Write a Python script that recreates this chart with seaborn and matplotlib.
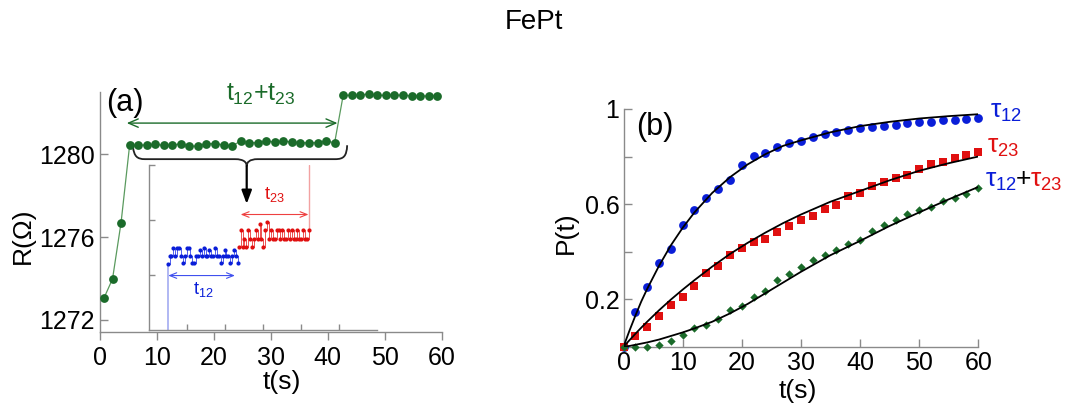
import numpy as np
import pandas as pd
import matplotlib
matplotlib.use("Agg")
import matplotlib.pyplot as plt
from matplotlib.path import Path
from matplotlib.patches import PathPatch
import seaborn as sns

sns.set_style("ticks")
plt.rcParams["font.family"] = ["Liberation Sans", "DejaVu Sans"]
plt.rcParams["mathtext.fontset"] = "custom"
plt.rcParams["mathtext.rm"] = "Liberation Sans"
plt.rcParams["mathtext.it"] = "Liberation Sans"
plt.rcParams["mathtext.bf"] = "Liberation Sans:bold"
plt.rcParams["text.color"] = "black"
plt.rcParams["axes.labelcolor"] = "black"
plt.rcParams["xtick.labelcolor"] = "black"
plt.rcParams["ytick.labelcolor"] = "black"

# ---------------- data: panel (a) ----------------
a_time = np.arange(0.7, 59.3, 1.5)          # sampling times of the green dots (s)
a_R = [1273.06, 1273.98, 1276.70,
       1280.43, 1280.43, 1280.45, 1280.47, 1280.43, 1280.43, 1280.51, 1280.39,
       1280.39, 1280.51, 1280.51, 1280.45, 1280.39, 1280.64, 1280.55, 1280.56,
       1280.63, 1280.59, 1280.63, 1280.59, 1280.56, 1280.55, 1280.56, 1280.64,
       1280.55,
       1282.84, 1282.84, 1282.84, 1282.92, 1282.84, 1282.84, 1282.86, 1282.84,
       1282.82, 1282.82, 1282.80, 1282.82]
a_xticks = [0, 10, 20, 30, 40, 50, 60]
a_yticks = [1272, 1276, 1280]

# inset telegraph traces (inset units)
blue_t = np.arange(4.85, 23.4, 0.5)
blue_v = [1.20, 1.35, 1.35, 1.49, 1.35, 1.49, 1.49, 1.35, 1.22, 1.35, 1.49, 1.49,
          1.35, 1.22, 1.22, 1.35, 1.35, 1.45, 1.35, 1.49, 1.35, 1.35, 1.45, 1.35,
          1.35, 1.49, 1.35, 1.35, 1.22, 1.35, 1.45, 1.35, 1.35, 1.22, 1.35, 1.45,
          1.35, 1.22]
red_t = np.arange(23.6, 42.15, 0.5)
red_v = [1.51, 1.81, 1.51, 1.66, 1.51, 1.81, 1.66, 1.51, 1.66, 1.81, 1.66, 1.93,
         1.66, 1.51, 1.81, 1.96, 1.66, 1.81, 1.66, 1.66, 1.81, 1.81, 1.66, 1.81,
         1.66, 1.66, 1.81, 1.66, 1.81, 1.66, 1.66, 1.81, 1.66, 1.66, 1.81, 1.66,
         1.66, 1.81]

# ---------------- data: panel (b) ----------------
b_time = np.arange(0, 61, 2)
p_tau12 = [0.0, 0.148, 0.253, 0.352, 0.41, 0.511, 0.574, 0.626, 0.665, 0.703,
           0.764, 0.802, 0.816, 0.841, 0.858, 0.865, 0.882, 0.896, 0.905, 0.912,
           0.919, 0.924, 0.928, 0.933, 0.943, 0.945, 0.945, 0.952, 0.954, 0.957,
           0.964]
p_tau23 = [0.0, 0.045, 0.084, 0.13, 0.176, 0.211, 0.257, 0.31, 0.338, 0.384,
           0.415, 0.439, 0.453, 0.481, 0.509, 0.535, 0.551, 0.58, 0.598, 0.636,
           0.647, 0.675, 0.692, 0.711, 0.724, 0.746, 0.767, 0.778, 0.792, 0.805,
           0.819]
p_sum = [0.0, 0.0, 0.0, 0.007, 0.024, 0.049, 0.077, 0.091, 0.115, 0.155,
         0.173, 0.211, 0.235, 0.279, 0.307, 0.335, 0.363, 0.387, 0.408, 0.432,
         0.45, 0.485, 0.511, 0.535, 0.56, 0.577, 0.588, 0.612, 0.626, 0.644,
         0.668]
fit_time = [0, 1, 2, 3, 4, 6, 8, 10, 12, 15, 18, 21, 24, 27, 30, 35, 40, 45, 50, 55, 60]
fit_tau12 = [0, 0.067, 0.13, 0.19, 0.243, 0.34, 0.426, 0.50, 0.565, 0.647, 0.713,
             0.767, 0.81, 0.845, 0.868, 0.902, 0.928, 0.946, 0.96, 0.97, 0.978]
fit_tau23 = [0, 0.027, 0.054, 0.08, 0.105, 0.153, 0.198, 0.24, 0.28, 0.337, 0.39,
             0.437, 0.48, 0.52, 0.556, 0.61, 0.655, 0.70, 0.74, 0.772, 0.80]
fit_sum = [0, 0.003, 0.008, 0.013, 0.018, 0.03, 0.045, 0.06, 0.077, 0.105, 0.14,
           0.18, 0.225, 0.27, 0.315, 0.385, 0.445, 0.508, 0.565, 0.62, 0.672]
b_xticks = [0, 10, 20, 30, 40, 50, 60]
b_yticks = [0.2, 0.4, 0.6, 0.8, 1.0]
b_yticklabels = ["0.2", "", "0.6", "", "1"]

GREEN = "#1b6b2a"
BLUE = "#0a1ed8"
RED = "#e01010"
GREY = "#8a8a8a"

W, H = 1068, 405
fig = plt.figure(figsize=(W / 100, H / 100), dpi=100)


def fx(px):
    return px / W


def fy(py):
    return 1 - py / H


# ================= panel (a) =================
axa = fig.add_axes([fx(100), fy(332), fx(441.7) - fx(100), fy(92) - fy(332)])
dfa = pd.DataFrame({"t": a_time, "R": a_R})
sns.lineplot(data=dfa, x="t", y="R", ax=axa, color="#5a9a5e", lw=0.9,
             estimator=None, sort=False)
sns.scatterplot(data=dfa, x="t", y="R", ax=axa, color=GREEN, s=40,
                linewidth=0, zorder=3, clip_on=False)
axa.set_xlim(0, 60)
axa.set_ylim(1271.42, 1283.0)
axa.set_xticks(a_xticks)
axa.set_yticks(a_yticks)
axa.tick_params(axis="y", direction="in", length=6, width=1, color=GREY,
                labelsize=18, pad=4, labelcolor="black")
axa.tick_params(axis="x", direction="out", length=6, width=1, color=GREY,
                labelsize=18, pad=4, labelcolor="black")
for s in ["top", "right"]:
    axa.spines[s].set_visible(False)
for s in ["left", "bottom"]:
    axa.spines[s].set_color(GREY)
    axa.spines[s].set_linewidth(1)
axa.set_xlabel("t(s)", fontsize=19, color="black")
axa.set_ylabel("R(Ω)", fontsize=19, color="black")
axa.xaxis.set_label_coords(0.533, -0.16)
axa.yaxis.set_label_coords(-0.19, 0.40)

# green double arrow t12+t23
axa.annotate("", xy=(41.7, 1281.5), xytext=(4.7, 1281.5),
             arrowprops=dict(arrowstyle="<->,head_length=0.7,head_width=0.3",
                             color=GREEN, lw=1.0, shrinkA=0, shrinkB=0))

# curly brace below the plateau
verts = [(5.8, 1280.34), (6.0, 1279.9), (6.5, 1279.76), (7.9, 1279.76),
         (23.7, 1279.76),
         (25.3, 1279.76), (25.76, 1279.6), (25.76, 1279.42),
         (25.76, 1279.6), (26.2, 1279.76), (27.7, 1279.76),
         (41.3, 1279.76),
         (42.8, 1279.76), (43.3, 1279.9), (43.4, 1280.43)]
codes = [Path.MOVETO, Path.CURVE4, Path.CURVE4, Path.CURVE4,
         Path.LINETO,
         Path.CURVE4, Path.CURVE4, Path.CURVE4,
         Path.CURVE4, Path.CURVE4, Path.CURVE4,
         Path.LINETO,
         Path.CURVE4, Path.CURVE4, Path.CURVE4]
axa.add_patch(PathPatch(Path(verts, codes), fc="none", ec="#222222", lw=1.3,
                        clip_on=False))
axa.annotate("", xy=(25.76, 1277.6), xytext=(25.76, 1279.42),
             arrowprops=dict(arrowstyle="-|>,head_length=0.8,head_width=0.3",
                             color="black", lw=1.6, shrinkA=0, shrinkB=0))

fig.text(fx(125), fy(103), "(a)", fontsize=22, ha="center", va="center")
fig.text(fx(261), fy(101), r"$t_{12}$+$t_{23}$", fontsize=18, color=GREEN,
         ha="center", va="baseline")

# ---------------- inset ----------------
axi = fig.add_axes([fx(149.3), fy(330), fx(376.7) - fx(149.3), fy(165) - fy(330)])
axi.set_facecolor("none")
axi.plot([blue_t[0], blue_t[0]], [0, blue_v[0]], color="#aab2f2", lw=1.3)
axi.plot([red_t[-1], red_t[-1]], [red_v[-1], 3], color="#f2a2a2", lw=1.0)
dfb = pd.DataFrame({"t": blue_t, "v": blue_v})
dfr = pd.DataFrame({"t": red_t, "v": red_v})
sns.lineplot(data=dfb, x="t", y="v", ax=axi, color="#5060ee", lw=0.7,
             estimator=None, sort=False, drawstyle="steps-post")
sns.lineplot(data=dfr, x="t", y="v", ax=axi, color="#ee5050", lw=0.7,
             estimator=None, sort=False, drawstyle="steps-post")
sns.scatterplot(data=dfb, x="t", y="v", ax=axi, color=BLUE, s=9, linewidth=0,
                zorder=3)
sns.scatterplot(data=dfr, x="t", y="v", ax=axi, color=RED, s=9, linewidth=0,
                zorder=3)
axi.set_xlim(0, 60)
axi.set_ylim(0, 3)
axi.set_xticks([10, 20, 30, 40, 50])
axi.set_yticks([1, 2, 3])
axi.set_xticklabels([])
axi.set_yticklabels([])
axi.set_xlabel("")
axi.set_ylabel("")
axi.tick_params(direction="in", length=4, width=1, color=GREY)
for s in ["top", "right"]:
    axi.spines[s].set_visible(False)
for s in ["left", "bottom"]:
    axi.spines[s].set_color(GREY)
    axi.spines[s].set_linewidth(1)
axi.annotate("", xy=(22.6, 0.99), xytext=(5.0, 0.99),
             arrowprops=dict(arrowstyle="<->,head_length=0.5,head_width=0.2",
                             color="#4050ee", lw=0.8, shrinkA=0, shrinkB=0))
axi.annotate("", xy=(42.0, 2.10), xytext=(24.1, 2.10),
             arrowprops=dict(arrowstyle="<->,head_length=0.5,head_width=0.2",
                             color="#ee4040", lw=0.8, shrinkA=0, shrinkB=0))
fig.text(fx(203), fy(294), r"$t_{12}$", fontsize=13, color=BLUE,
         ha="center", va="baseline")
fig.text(fx(274), fy(199), r"$t_{23}$", fontsize=13, color=RED,
         ha="center", va="baseline")

# ================= panel (b) =================
axb = fig.add_axes([fx(623.5), fy(346.7), fx(978.3) - fx(623.5), fy(109) - fy(346.7)])
dfp = pd.DataFrame({"t": b_time, "p12": p_tau12, "p23": p_tau23, "ps": p_sum})
dff = pd.DataFrame({"t": fit_time, "f12": fit_tau12, "f23": fit_tau23, "fs": fit_sum})
sns.scatterplot(data=dfp, x="t", y="p12", ax=axb, color=BLUE, marker="o", s=40,
                linewidth=0, zorder=3, clip_on=False)
sns.scatterplot(data=dfp, x="t", y="p23", ax=axb, color=RED, marker="s", s=40,
                linewidth=0, zorder=3, clip_on=False)
sns.scatterplot(data=dfp, x="t", y="ps", ax=axb, color=GREEN, marker="D", s=18,
                linewidth=0, zorder=4, clip_on=False)
for col in ["f12", "f23", "fs"]:
    sns.lineplot(data=dff, x="t", y=col, ax=axb, color="black", lw=1.3,
                 estimator=None, sort=False, zorder=5)
axb.set_xlim(0, 60)
axb.set_ylim(0, 1.0)
axb.set_xticks(b_xticks)
axb.set_yticks(b_yticks)
axb.set_yticklabels(b_yticklabels)
axb.tick_params(direction="in", length=6, width=1, color=GREY, labelsize=18,
                pad=3, labelcolor="black")
for s in ["top", "right"]:
    axb.spines[s].set_visible(False)
for s in ["left", "bottom"]:
    axb.spines[s].set_color(GREY)
    axb.spines[s].set_linewidth(1)
axb.set_xlabel("t(s)", fontsize=19, color="black")
axb.set_ylabel("P(t)", fontsize=19, color="black")
axb.xaxis.set_label_coords(0.492, -0.135)
axb.yaxis.set_label_coords(-0.13, 0.48)

fig.text(fx(655), fy(127), "(b)", fontsize=22, ha="center", va="center")
fig.text(fx(990), fy(118), r"$\tau_{12}$", fontsize=19, color=BLUE,
         ha="left", va="baseline")
fig.text(fx(987), fy(153), r"$\tau_{23}$", fontsize=19, color=RED,
         ha="left", va="baseline")
fig.text(fx(985), fy(187), r"$\tau_{12}$", fontsize=19, color=BLUE,
         ha="left", va="baseline")
fig.text(fx(1016), fy(186), "+", fontsize=19, color="black",
         ha="left", va="baseline")
fig.text(fx(1030), fy(187), r"$\tau_{23}$", fontsize=19, color=RED,
         ha="left", va="baseline")

fig.text(0.5, fy(22), "FePt", fontsize=20, ha="center", va="center",
         color="black")

fig.savefig("out.png", dpi=100)
